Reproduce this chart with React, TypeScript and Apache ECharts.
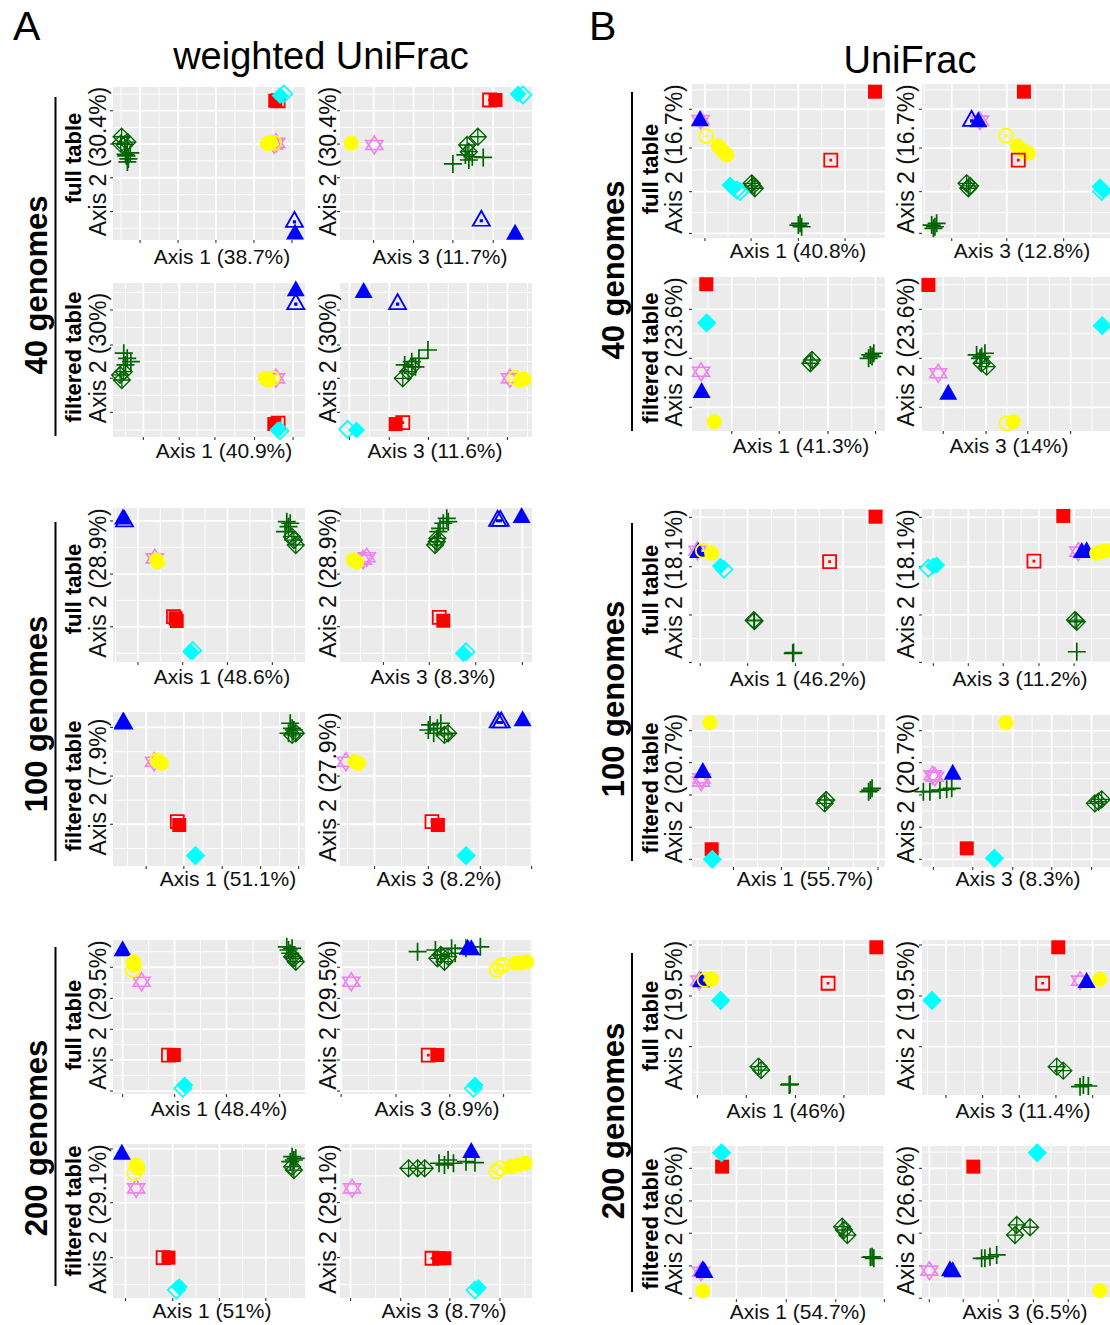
import React, { useEffect, useRef } from "react";
import * as echarts from "echarts";

type Pt = [string, number, number];

// Marker codes: rF red filled square, rO red open square, cF/cO cyan diamond filled/open,
// gD green diamond-plus, gP green plus, yF/yO yellow circle filled/open, vS violet star,
// bF/bO blue triangle filled/open. Coordinates are in each panel's own 0-100 ordination units.

// ---------- A: weighted UniFrac ----------
const wu40FullAx1: Pt[] = [
  ["gD", 4.5, 67.5], ["gD", 4, 63], ["gD", 6, 62.5], ["gD", 7.5, 64],
  ["gP", 6.5, 56], ["gP", 8, 53], ["gP", 7, 55], ["gP", 9, 57], ["gP", 7.5, 51],
  ["vS", 84, 62.5], ["vS", 85, 63.5],
  ["rO", 86, 91], ["rF", 84.5, 91],
  ["cO", 89, 95.5], ["cF", 87, 94.5],
  ["bO", 94.5, 13.5], ["bF", 94.8, 5.5],
  ["yO", 84, 63.5], ["yF", 80.5, 63], ["yF", 82, 63.5],
];
const wu40FullAx3: Pt[] = [
  ["gD", 71.8, 67.5], ["gD", 66.2, 62.1], ["gD", 67.1, 57.7],
  ["gP", 65.3, 55.6], ["gP", 68.9, 54.4], ["gP", 74.6, 54], ["gP", 58.8, 49.7], ["gP", 67.1, 52.3],
  ["vS", 17.9, 62.1],
  ["rO", 77.9, 91.5], ["rF", 81, 91.5],
  ["cF", 92.7, 95.4], ["cO", 95.3, 94.8],
  ["bO", 73.6, 14.2], ["bF", 91.2, 5.4],
  ["yF", 5.9, 63.2],
];
const wu40FiltAx1: Pt[] = [
  ["gP", 7.4, 51.1], ["gP", 9.3, 48.9], ["gP", 6.5, 46.8], ["gP", 5.6, 54.4],
  ["gD", 3.7, 40.3], ["gD", 4.6, 37], ["gD", 5.6, 42.4],
  ["vS", 84.9, 38.1],
  ["rO", 86, 9], ["rF", 84, 8.4],
  ["cF", 85.8, 4.5], ["cO", 87, 4],
  ["bO", 95.2, 87.9], ["bF", 95.2, 96.6],
  ["yO", 83, 38.1], ["yF", 79.3, 38.1], ["yF", 81.1, 37],
];
const wu40FiltAx3: Pt[] = [
  ["gP", 37.4, 48.9], ["gP", 41.1, 51.1], ["gP", 45.8, 56.5], ["gP", 33.7, 46.8], ["gP", 39.3, 45.6],
  ["gD", 32.7, 38.1], ["gD", 35.5, 42.4], ["gD", 37.4, 45.6],
  ["vS", 88.5, 38.1],
  ["rF", 29, 8.4], ["rO", 32.7, 9.3],
  ["cO", 4, 5], ["cF", 8.6, 4.5],
  ["bF", 12.3, 95.5], ["bO", 30, 87.9],
  ["yO", 91.2, 38.3], ["yF", 94, 37], ["yF", 95.9, 37.5],
];
const wu100FullAx1: Pt[] = [
  ["gP", 90.5, 91.1], ["gP", 91.4, 87.9], ["gP", 89.6, 84.6], ["gP", 92.3, 90.1],
  ["gD", 94.2, 79.2], ["gD", 95.2, 76], ["gD", 93.2, 81.4],
  ["vS", 21.8, 67.3],
  ["rO", 31.5, 29.5], ["rF", 32.6, 28.4], ["rF", 33.2, 26.6],
  ["cO", 41.5, 7.5], ["cF", 40.5, 6.7],
  ["bO", 6, 93], ["bF", 5.2, 94.4],
  ["yF", 22.7, 66.2], ["yF", 23.3, 65.1],
];
const wu100FullAx3: Pt[] = [
  ["gP", 53.8, 90.1], ["gP", 55.6, 93.3], ["gP", 52.1, 86.8], ["gP", 51.2, 84.6], ["gP", 56.4, 91.1],
  ["gD", 50.4, 78.1], ["gD", 49.5, 76], ["gD", 50.7, 80.3],
  ["vS", 13.9, 68], ["vS", 12, 66.5],
  ["rO", 51.7, 29], ["rF", 53.8, 26.8],
  ["cF", 64.2, 5.6], ["cO", 65.6, 6.7],
  ["bO", 82.1, 93.3], ["bO", 83.5, 93.3], ["bF", 94.6, 95.5],
  ["yF", 6.9, 66.2], ["yF", 8.7, 65.1],
];
const wu100FiltAx1: Pt[] = [
  ["gP", 92.3, 92.7], ["gP", 93.3, 89.4], ["gP", 91.4, 86.2], ["gP", 94.2, 88.3],
  ["gD", 93.3, 85.1], ["gD", 95.2, 86.2],
  ["vS", 21.4, 67.7],
  ["rO", 33.5, 28.8], ["rF", 34.5, 26.6],
  ["cF", 42.5, 6.5], ["cO", 43, 6.8],
  ["bO", 5.5, 94], ["bF", 5.2, 94.8],
  ["yO", 23, 68.5], ["yF", 24.2, 67.7], ["yF", 25.2, 66.7],
];
const wu100FiltAx3: Pt[] = [
  ["gP", 46.9, 91.6], ["gP", 50.7, 89.4], ["gP", 48.8, 86.2], ["gP", 52.5, 92.7], ["gP", 46, 88.3],
  ["gD", 54.4, 85.1], ["gD", 56.3, 86.2],
  ["vS", 3.1, 67.7],
  ["rO", 47.9, 28.8], ["rF", 51, 26.6],
  ["cF", 65.2, 6.5], ["cO", 65.7, 6.8],
  ["bO", 82.4, 94.8], ["bO", 84, 94.8], ["bF", 95.1, 95.9],
  ["yF", 7.7, 67.7], ["yF", 9.6, 66.7],
];
const wu200FullAx1: Pt[] = [
  ["gP", 91.4, 93.5], ["gP", 93.3, 94.6], ["gP", 92.3, 91.4], ["gP", 90.5, 95.6],
  ["gD", 94.2, 88.1], ["gD", 95.2, 85.9], ["gD", 93.3, 89.2],
  ["vS", 14.9, 72.9],
  ["rO", 28.9, 25.3], ["rF", 31.7, 25.3],
  ["cO", 36.4, 3.7], ["cF", 37.3, 5.8],
  ["bF", 5, 94.6],
  ["yO", 10.2, 80.5], ["yF", 10.6, 85.9], ["yF", 11.1, 83.8],
];
const wu200FullAx3: Pt[] = [
  ["gP", 40.4, 92.4], ["gP", 49.7, 93.5], ["gP", 58.1, 94.6], ["gP", 65.6, 94.6], ["gP", 73.1, 95.6], ["gP", 52.5, 90.3], ["gP", 60, 91.4],
  ["gD", 50.7, 88.1], ["gD", 54.4, 85.9], ["gD", 56.3, 89.2], ["gD", 52.5, 90.3],
  ["vS", 5.9, 72.9],
  ["rO", 46, 25.3], ["rF", 50.7, 25.3],
  ["cO", 69.5, 3.7], ["cF", 70.3, 5.8],
  ["bF", 66.5, 95.6], ["bF", 68.4, 95.3],
  ["yO", 81.5, 80.5], ["yO", 83.3, 82.7], ["yO", 85.2, 83.8],
  ["yF", 91.7, 84.9], ["yF", 94.5, 85.3], ["yF", 97.3, 85.9],
];
const wu200FiltAx1: Pt[] = [
  ["gP", 93.3, 91.8], ["gP", 94.2, 89.6], ["gP", 92.3, 88.5], ["gP", 95.2, 90.7],
  ["gD", 94.2, 83.1], ["gD", 93.3, 85.3],
  ["vS", 12.1, 71.2],
  ["rO", 26.1, 26.2], ["rF", 28.9, 26.2],
  ["cO", 33, 5.2], ["cF", 34.5, 7.3],
  ["bF", 4.6, 95],
  ["yO", 11.1, 81], ["yF", 12.1, 86.4], ["yF", 13, 84.2],
];
const wu200FiltAx3: Pt[] = [
  ["gD", 35.7, 84.2], ["gD", 40.4, 84.2], ["gD", 44.1, 84.2],
  ["gP", 51.6, 87.5], ["gP", 56.3, 89.6], ["gP", 59.1, 87.5], ["gP", 65.6, 88.5], ["gP", 70.3, 87.9], ["gP", 54.4, 86.4],
  ["vS", 6.3, 71.2],
  ["rO", 47.9, 25.8], ["rF", 51.6, 25.8], ["rF", 54.4, 25.8],
  ["cO", 70.3, 5.2], ["cF", 72.1, 6.7],
  ["bF", 68.4, 96.1],
  ["yO", 81.5, 82], ["yO", 83.3, 84.2],
  ["yF", 89, 85.3], ["yF", 92.7, 86.4], ["yF", 96.4, 87.5],
];

// ---------- B: UniFrac ----------
const uf40FullAx1: Pt[] = [
  ["gD", 30.9, 35.5], ["gD", 32.6, 32.3], ["gD", 31.5, 33.8],
  ["gP", 56, 9.5], ["gP", 56.8, 7.3], ["gP", 55.1, 8.4],
  ["vS", 4.5, 76.6],
  ["rO", 71.9, 50.6], ["rF", 94.8, 95],
  ["cO", 24.9, 30.1], ["cO", 23.2, 31.2], ["cF", 19.7, 34.4], ["cF", 21.4, 32.3],
  ["bF", 4.1, 77.7],
  ["yO", 7.3, 66.2], ["yF", 13.6, 59.7], ["yF", 15.4, 57.1], ["yF", 17.1, 55], ["yF", 18, 53.9],
];
const uf40FullAx3: Pt[] = [
  ["gD", 23.1, 35.5], ["gD", 24, 32.3], ["gD", 24.9, 33.8],
  ["gP", 5, 8.4], ["gP", 6.7, 7.3], ["gP", 7.6, 9.5], ["gP", 5.9, 6.3],
  ["vS", 30, 76.2],
  ["rF", 52.8, 95],
  ["cF", 92.2, 33.3], ["cO", 93.1, 30.1], ["cF", 93.9, 31.2],
  ["bO", 25.7, 77.7], ["bF", 29.2, 77.1],
  ["yO", 43.5, 66.4], ["yF", 49.4, 59.7], ["yF", 51.6, 57.1], ["yF", 55.1, 55], ["yF", 53.4, 56],
  ["rO", 49.9, 50.6],
];
const uf40FiltAx1: Pt[] = [
  ["gD", 61.3, 44], ["gD", 62.2, 46.1],
  ["gP", 92.4, 49.4], ["gP", 93.3, 48.3], ["gP", 94.2, 50.5], ["gP", 91.5, 47.2],
  ["vS", 4.7, 38.5],
  ["rF", 7.4, 95.3],
  ["cO", 7.6, 70.2], ["cF", 7.4, 69.9],
  ["bF", 5, 26.6],
  ["yF", 11.5, 6],
];
const uf40FiltAx3: Pt[] = [
  ["gP", 28.3, 49.4], ["gP", 30.9, 48.3], ["gP", 32.6, 50.5], ["gP", 30.1, 47.2],
  ["gD", 30.9, 44], ["gD", 33.5, 41.8],
  ["vS", 8.4, 37.5],
  ["rF", 3.3, 94.8],
  ["cO", 93.4, 68.4], ["cF", 93.1, 68.2],
  ["bF", 13.6, 25.5],
  ["yO", 43.9, 5], ["yF", 47.3, 6],
];
const uf100FullAx1: Pt[] = [
  ["gD", 32.4, 27.3], ["gD", 32, 27.8],
  ["gP", 52.2, 6.3], ["gP", 52.6, 6.8],
  ["vS", 2.8, 72.9],
  ["rO", 71.3, 65.8], ["rF", 95.1, 95],
  ["cO", 16.6, 60.8], ["cF", 14.7, 63],
  ["bF", 3.2, 73.4],
  ["yO", 5.6, 72.9], ["yF", 10.2, 71.2],
];
const uf100FullAx3: Pt[] = [
  ["gD", 79.3, 27.9], ["gD", 80.2, 26.8],
  ["gP", 80.2, 7.3],
  ["vS", 81, 72.3],
  ["rO", 58, 66.2], ["rF", 73.2, 95.5],
  ["cO", 3.3, 61.5], ["cF", 5.9, 63], ["cF", 7.6, 63.6],
  ["bF", 82.8, 73.4], ["bF", 85.3, 73.8],
  ["yF", 90.5, 71.2], ["yF", 93.1, 72.3], ["yF", 94.8, 72.9],
];
const uf100FiltAx1: Pt[] = [
  ["gD", 69.5, 43.8], ["gD", 68.7, 41.6],
  ["gP", 92.4, 50.3], ["gP", 93.3, 51.4], ["gP", 91.5, 49.2],
  ["vS", 5, 57.9], ["vS", 4.7, 55.8],
  ["rF", 10.2, 11.6],
  ["cO", 10.5, 5], ["cF", 10.5, 5],
  ["bF", 5.6, 63.4],
  ["yF", 9.3, 94.3],
];
const uf100FiltAx3: Pt[] = [
  ["gP", 4.1, 49.2], ["gP", 9.3, 50.3], ["gP", 12.8, 50.8], ["gP", 15.4, 51.4], ["gP", 0.7, 49.2],
  ["gD", 89.6, 41.6], ["gD", 93.1, 44.2], ["gD", 91.4, 42.7],
  ["vS", 6.7, 59], ["vS", 5.5, 60],
  ["rF", 23.2, 12.2],
  ["cO", 37.5, 5.7], ["cF", 37.5, 5.7],
  ["bF", 15.9, 62.3],
  ["yF", 43.5, 94.3],
];
const uf200FullAx1: Pt[] = [
  ["gD", 34.5, 18.3], ["gD", 35.8, 16.1],
  ["gP", 50.4, 6.5], ["gP", 50.8, 7],
  ["vS", 3.8, 73.8],
  ["rO", 70.5, 72.1], ["rF", 95.5, 95.3],
  ["cO", 14.9, 61], ["cF", 14.7, 61.3],
  ["bF", 4.7, 74.6],
  ["yO", 6.5, 74.2], ["yF", 10.2, 74.6],
];
const uf200FullAx3: Pt[] = [
  ["gD", 69.8, 18.3], ["gD", 73.2, 15.7],
  ["gP", 83.6, 6.5], ["gP", 86.2, 5.8], ["gP", 81.9, 5.4],
  ["vS", 81.9, 73.8],
  ["rO", 62.5, 72.1], ["rF", 70.6, 95.3],
  ["cO", 5.2, 61], ["cF", 5, 61.3],
  ["bF", 85.3, 74.2],
  ["yF", 92.2, 74.6],
];
const uf200FiltAx1: Pt[] = [
  ["gD", 77.8, 47.3], ["gD", 80.5, 41.8], ["gD", 78.7, 45.1],
  ["gP", 93.3, 27.6], ["gP", 94.2, 26.6], ["gP", 92.4, 27.3],
  ["vS", 4.7, 17.8],
  ["rF", 15.6, 86.5],
  ["cO", 15.3, 95.6], ["cF", 15.3, 95.6],
  ["bF", 5.6, 20.1], ["bF", 6.5, 19],
  ["yF", 5.6, 5.2],
];
const uf200FiltAx3: Pt[] = [
  ["gD", 49.1, 48.4], ["gD", 56, 46.9], ["gD", 48.2, 41.8],
  ["gP", 32.6, 26.6], ["gP", 38.7, 28.8], ["gP", 35.2, 27.6], ["gP", 30.9, 26.6],
  ["vS", 3.8, 18.5],
  ["rF", 26.6, 86.5],
  ["cO", 59.7, 95.6], ["cF", 59.7, 95.6],
  ["bF", 14.5, 20.1], ["bF", 15.9, 19.4],
  ["yF", 92.2, 5.4],
];

const panelData: Pt[][] = [
  wu40FullAx1, wu40FullAx3, wu40FiltAx1, wu40FiltAx3,
  wu100FullAx1, wu100FullAx3, wu100FiltAx1, wu100FiltAx3,
  wu200FullAx1, wu200FullAx3, wu200FiltAx1, wu200FiltAx3,
  uf40FullAx1, uf40FullAx3, uf40FiltAx1, uf40FiltAx3,
  uf100FullAx1, uf100FullAx3, uf100FiltAx1, uf100FiltAx3,
  uf200FullAx1, uf200FullAx3, uf200FiltAx1, uf200FiltAx3,
];

// Major break positions (no tick labels are printed in the original)
const xBreaks: number[][] = [
  [14.1, 33.9, 53.6, 73.4, 93.2], [17.5, 38.3, 58.8, 79.8],
  [15.8, 34.5, 53.1, 73.7, 93.8], [4.9, 25.7, 46.1, 66.7, 87.2],
  [13, 36.3, 59.6, 83], [22.6, 46.5, 70.7, 95],
  [17.3, 36.9, 56.9, 76.9, 96.7], [18, 46, 73.1, 99.8],
  [5, 32.1, 59.1, 86.8], [0.6, 29.2, 57.2, 85.2],
  [6.5, 31.1, 55.4, 79.6], [5.5, 31.6, 57.2, 83.3],
  [6.7, 30.6, 55.1, 79.3], [15.4, 43.9, 73.4],
  [20.6, 45.2, 70.5, 95.1], [11, 33.2, 54.8, 77],
  [4.3, 28.8, 53.6, 78.3], [5.9, 24, 42.1, 60.6, 78.8],
  [21.5, 46.3, 70.8, 96.4], [5.9, 26.3, 47, 67.2, 87.9],
  [2.8, 28.1, 53.6, 78.7], [12.4, 31.4, 50.4, 69.4, 88.4],
  [23, 48.9, 74.5, 99.7], [3.8, 21.4, 39.5, 57.7, 75.8],
];
const yBreaksWu40Full = [84.5, 62.7, 40.7, 18.6];
const yBreaksWu40Filt = [82.5, 59.7, 38.1, 16];
const yBreaksWu100Full = [91.6, 57.1, 22.9];
const yBreaksWu100Filt = [90, 58.4, 27.1];
const yBreaksWu200Full = [82.3, 62.1, 42, 22.1, 1.9];
const yBreaksWu200Filt = [96.8, 61.9, 26.2];
const yBreaksUf40Full = [83.6, 58.4, 30.1, 3];
const yBreaksUf40Filt = [79, 47.2, 15.4];
const yBreaksUf100Full = [94.6, 62.5, 31.2, 0.4];
const yBreaksUf100Filt = [89.1, 68.2, 47.1, 26, 5];
const yBreaksUf200Full = [96.8, 63.9, 31.2];
const yBreaksUf200Filt = [85.4, 64.1, 43, 21.6, 0.5];
const yBreaks: number[][] = [
  yBreaksWu40Full, yBreaksWu40Full, yBreaksWu40Filt, yBreaksWu40Filt,
  yBreaksWu100Full, yBreaksWu100Full, yBreaksWu100Filt, yBreaksWu100Filt,
  yBreaksWu200Full, yBreaksWu200Full, yBreaksWu200Filt, yBreaksWu200Filt,
  yBreaksUf40Full, yBreaksUf40Full, yBreaksUf40Filt, yBreaksUf40Filt,
  yBreaksUf100Full, yBreaksUf100Full, yBreaksUf100Filt, yBreaksUf100Filt,
  yBreaksUf200Full, yBreaksUf200Full, yBreaksUf200Filt, yBreaksUf200Filt,
];

const xTitles: string[] = [
  "Axis 1 (38.7%)", "Axis 3 (11.7%)", "Axis 1 (40.9%)", "Axis 3 (11.6%)",
  "Axis 1 (48.6%)", "Axis 3 (8.3%)", "Axis 1 (51.1%)", "Axis 3 (8.2%)",
  "Axis 1 (48.4%)", "Axis 3 (8.9%)", "Axis 1 (51%)", "Axis 3 (8.7%)",
  "Axis 1 (40.8%)", "Axis 3 (12.8%)", "Axis 1 (41.3%)", "Axis 3 (14%)",
  "Axis 1 (46.2%)", "Axis 3 (11.2%)", "Axis 1 (55.7%)", "Axis 3 (8.3%)",
  "Axis 1 (46%)", "Axis 3 (11.4%)", "Axis 1 (54.7%)", "Axis 3 (6.5%)",
];
const yTitles: string[] = [
  "Axis 2 (30.4%)", "Axis 2 (30.4%)", "Axis 2 (30%)", "Axis 2 (30%)",
  "Axis 2 (28.9%)", "Axis 2 (28.9%)", "Axis 2 (7.9%)", "Axis 2 (27.9%)",
  "Axis 2 (29.5%)", "Axis 2 (29.5%)", "Axis 2 (29.1%)", "Axis 2 (29.1%)",
  "Axis 2 (16.7%)", "Axis 2 (16.7%)", "Axis 2 (23.6%)", "Axis 2 (23.6%)",
  "Axis 2 (18.1%)", "Axis 2 (18.1%)", "Axis 2 (20.7%)", "Axis 2 (20.7%)",
  "Axis 2 (19.5%)", "Axis 2 (19.5%)", "Axis 2 (26.6%)", "Axis 2 (26.6%)",
];
const tableLabels = ["full table", "filtered table"];
const genomeLabels = ["40 genomes", "100 genomes", "200 genomes"];
const sideTitles = ["weighted UniFrac", "UniFrac"];
const sideLetters = ["A", "B"];

// ---------- layout (pixels) ----------
const COL_X: [number, number][] = [[113, 192], [340, 192], [692, 193], [922, 193]];
const ROW_Y: [number, number][][] = [
  [[87, 153], [283, 154], [508, 154], [712, 154], [940, 154], [1144, 154]],
  [[84, 154], [277, 154], [509, 154], [714, 153], [940, 155], [1146, 153]],
];
const XT_POS: [number, number][] = [
  [222, 256], [440, 256], [224, 450], [435, 450], [222, 676], [433, 676],
  [228, 878], [439, 878], [219, 1108], [437, 1108], [212, 1310], [444, 1310],
  [798, 250], [1022, 250], [801, 445], [1009, 445], [798, 678], [1020, 678],
  [805, 878], [1018, 878], [786, 1110], [1023, 1110], [798, 1311], [1025, 1311],
];
const YT_X = [98, 328, 674, 906];
const ROWLAB_X = [73, 650];
const ROWLAB_Y = [
  [158, 357, 589, 786, 1025, 1211],
  [169, 358, 590, 788, 1026, 1224],
];
const GEN_X = [36, 613];
const GEN_Y = [[285, 714, 1138], [270, 699, 1121]];
const BAR_X = [55.5, 632];
const BAR_Y = [[[97, 436], [522, 861], [947, 1286]], [[92, 431], [523, 861], [953, 1292]]];

const RED = "#FF0000", CYAN = "#00FFFF", GREEN = "#006400", YEL = "#FFFF00", VIO = "#EE82EE", BLUE = "#0000FF";
const DOT = "M-0.07,-0.07L0.07,-0.07L0.07,0.07L-0.07,0.07Z";
const MARK: Record<string, any> = {
  rF: { symbol: "rect", size: 14, fill: RED },
  rO: { symbol: "path://M-1,-1L1,-1L1,1L-1,1Z" + DOT, size: 13, stroke: RED, lw: 1.8 },
  cF: { symbol: "diamond", size: 17, fill: CYAN },
  cO: { symbol: "path://M0,-1L1,0L0,1L-1,0Z", size: 17, stroke: CYAN, lw: 1.7 },
  gD: { symbol: "path://M0,-1L1,0L0,1L-1,0ZM0,-1L0,1M-1,0L1,0", size: 17, stroke: GREEN, lw: 1.3 },
  gP: { symbol: "path://M-1,0L1,0M0,-1L0,1", size: 18, stroke: GREEN, lw: 1.7 },
  yF: { symbol: "circle", size: 15, fill: YEL },
  yO: { symbol: "path://M-1,0A1,1,0,1,1,1,0A1,1,0,1,1,-1,0Z" + DOT, size: 14, stroke: YEL, lw: 1.8 },
  vS: { symbol: "path://M0,-1L0.866,0.5L-0.866,0.5ZM0,1L0.866,-0.5L-0.866,-0.5Z", size: [17, 18], stroke: VIO, lw: 1.6 },
  bF: { symbol: "triangle", size: [18, 16], fill: BLUE },
  bO: { symbol: "path://M0,-1L0.866,0.5L-0.866,0.5Z" + DOT, size: [17, 15], stroke: BLUE, lw: 1.8 },
};

const FONT = '"Liberation Sans", Arial, sans-serif';

function gridLineData(maj: number[], orient: number): number[][] {
  const out: number[][] = maj.map((v) => [v, orient, 0]);
  const step = maj.length > 1 ? maj[1] - maj[0] : 20;
  const mids: number[] = [maj[0] - step / 2];
  for (let i = 0; i < maj.length - 1; i++) mids.push((maj[i] + maj[i + 1]) / 2);
  mids.push(maj[maj.length - 1] + step / 2);
  mids.filter((m) => m > 0.3 && m < 99.7).forEach((m) => out.push([m, orient, 1]));
  return out;
}

function buildOption() {
  const grid: any[] = [], xAxis: any[] = [], yAxis: any[] = [], series: any[] = [], graphic: any[] = [];
  for (let i = 0; i < 24; i++) {
    const side = i < 12 ? 0 : 1;
    const k = i % 12;
    const row = Math.floor(k / 2), col = k % 2;
    const [left, width] = COL_X[side * 2 + col];
    const [top, height] = ROW_Y[side][row];
    grid.push({ left, top, width, height, show: true, backgroundColor: "#EBEBEB", borderWidth: 0, containLabel: false, outerBoundsMode: "none" });
    xAxis.push({ gridIndex: i, type: "value", min: 0, max: 100, show: false });
    yAxis.push({ gridIndex: i, type: "value", min: 0, max: 100, show: false });
    const gdata = gridLineData(xBreaks[i], 0).concat(gridLineData(yBreaks[i], 1));
    series.push({
      type: "custom", xAxisIndex: i, yAxisIndex: i, z: 1, silent: true, clip: false,
      data: gdata,
      renderItem: (params: any, api: any) => {
        const v = api.value(0), orient = api.value(1), kind = api.value(2);
        const cs = params.coordSys;
        const lw = kind === 0 ? 1.8 : 0.9;
        const children: any[] = [];
        if (orient === 0) {
          const px = api.coord([v, 0])[0];
          children.push({ type: "line", shape: { x1: px, y1: cs.y, x2: px, y2: cs.y + cs.height }, style: { stroke: "#FFFFFF", lineWidth: lw } });
          if (kind === 0) children.push({ type: "line", shape: { x1: px, y1: cs.y + cs.height, x2: px, y2: cs.y + cs.height + 3 }, style: { stroke: "#333333", lineWidth: 1.1 } });
        } else {
          const py = api.coord([0, v])[1];
          children.push({ type: "line", shape: { x1: cs.x, y1: py, x2: cs.x + cs.width, y2: py }, style: { stroke: "#FFFFFF", lineWidth: lw } });
          if (kind === 0) children.push({ type: "line", shape: { x1: cs.x - 3, y1: py, x2: cs.x, y2: py }, style: { stroke: "#333333", lineWidth: 1.1 } });
        }
        return { type: "group", children };
      },
    });
    series.push({
      type: "scatter", xAxisIndex: i, yAxisIndex: i, z: 3, silent: true,
      data: panelData[i].map(([c, x, y]) => {
        const m = MARK[c];
        return {
          value: [x, y], symbol: m.symbol, symbolSize: m.size,
          itemStyle: m.fill ? { color: m.fill, borderWidth: 0, opacity: 1 } : { color: "rgba(0,0,0,0)", borderColor: m.stroke, borderWidth: m.lw, opacity: 1 },
        };
      }),
    });
    graphic.push({ type: "text", x: XT_POS[i][0], y: XT_POS[i][1], style: { text: xTitles[i], x: 0, y: 0, align: "center", verticalAlign: "middle", font: `21px ${FONT}`, fill: "#111" } });
    graphic.push({ type: "text", x: YT_X[side * 2 + col], y: top + height / 2 - 2, rotation: Math.PI / 2, style: { text: yTitles[i], x: 0, y: 0, align: "center", verticalAlign: "middle", font: `23px ${FONT}`, fill: "#111" } });
    if (col === 0) {
      graphic.push({ type: "text", x: ROWLAB_X[side], y: ROWLAB_Y[side][row], rotation: Math.PI / 2, style: { text: tableLabels[row % 2], x: 0, y: 0, align: "center", verticalAlign: "middle", font: `bold 22px ${FONT}`, fill: "#000" } });
    }
  }
  for (let s = 0; s < 2; s++) {
    for (let g = 0; g < 3; g++) {
      graphic.push({ type: "text", x: GEN_X[s], y: GEN_Y[s][g], rotation: Math.PI / 2, style: { text: genomeLabels[g], x: 0, y: 0, align: "center", verticalAlign: "middle", font: `bold 31px ${FONT}`, fill: "#000" } });
      graphic.push({ type: "line", shape: { x1: BAR_X[s], y1: BAR_Y[s][g][0], x2: BAR_X[s], y2: BAR_Y[s][g][1] }, style: { stroke: "#000", lineWidth: 2 } });
    }
  }
  graphic.push({ type: "text", x: 13, y: 26, style: { text: sideLetters[0], x: 0, y: 0, align: "left", verticalAlign: "middle", font: `41px ${FONT}`, fill: "#000" } });
  graphic.push({ type: "text", x: 589, y: 26, style: { text: sideLetters[1], x: 0, y: 0, align: "left", verticalAlign: "middle", font: `41px ${FONT}`, fill: "#000" } });
  graphic.push({ type: "text", x: 321, y: 56, style: { text: sideTitles[0], x: 0, y: 0, align: "center", verticalAlign: "middle", font: `38px ${FONT}`, fill: "#000" } });
  graphic.push({ type: "text", x: 910, y: 60, style: { text: sideTitles[1], x: 0, y: 0, align: "center", verticalAlign: "middle", font: `38px ${FONT}`, fill: "#000" } });

  return { animation: false, backgroundColor: "#FFFFFF", grid, xAxis, yAxis, series, graphic };
}

export default function App() {
  const ref = useRef<HTMLDivElement>(null);
  useEffect(() => {
    if (!ref.current) return;
    const chart = echarts.init(ref.current, null, { renderer: "svg" });
    chart.setOption(buildOption() as any);
    return () => chart.dispose();
  }, []);
  return <div ref={ref} style={{ position: "absolute", left: 0, top: 0, width: 1110, height: 1325, background: "#fff" }} />;
}
